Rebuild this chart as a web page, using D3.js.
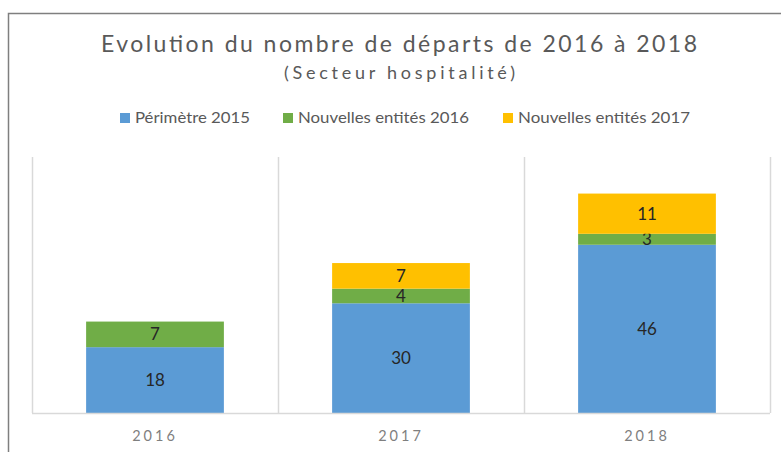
<!DOCTYPE html>
<html lang="fr">
<head>
<meta charset="utf-8">
<title>Evolution du nombre de départs</title>
<style>
  body { margin: 0; background: #fff; }
  svg text { font-family: Lato, "Open Sans", sans-serif; }
</style>
</head>
<body>
<svg id="chart" width="781" height="452"></svg>
<script src="https://d3js.org/d3.v7.min.js"></script>
<script>
const years = ["2016", "2017", "2018"]
const perimetre2015 = [18, 30, 46]
const nouvelles2016 = [7, 4, 3]
const nouvelles2017 = [0, 7, 11]
const seriesNames = ["Périmètre 2015", "Nouvelles entités 2016", "Nouvelles entités 2017"]
const colors = ["#5b9bd5", "#70ad47", "#ffc000"]

const svg = d3.select("#chart")

// outer frame (only top and left visible)
svg.append("path")
    .attr("d", "M8.5,452 V13.5 H781")
    .attr("fill", "none")
    .attr("stroke", "#7f7f7f")
    .attr("stroke-width", 1.5)

// title
svg.append("text")
    .attr("x", 101).attr("y", 52)
    .attr("textLength", 596).attr("lengthAdjust", "spacing")
    .attr("font-size", 23).attr("fill", "#595959")
    .text("Evolution du nombre de départs de 2016 à 2018")
svg.append("text")
    .attr("x", 284).attr("y", 79)
    .attr("textLength", 231).attr("lengthAdjust", "spacing")
    .attr("font-size", 18).attr("fill", "#595959")
    .text("(Secteur hospitalité)")

// legend
const legendX = [120, 283, 503]
const legendW = [115, 171, 172]
const legend = svg.append("g")
seriesNames.forEach((name, i) => {
    legend.append("rect")
        .attr("x", legendX[i]).attr("y", 113)
        .attr("width", 10).attr("height", 10)
        .attr("fill", colors[i])
    legend.append("text")
        .attr("x", legendX[i] + 15).attr("y", 123)
        .attr("textLength", legendW[i]).attr("lengthAdjust", "spacingAndGlyphs")
        .attr("font-size", 16).attr("fill", "#595959")
        .text(name)
})

const margin = { left: 32, right: 11, top: 157, bottom: 39 }
const W = 781, H = 452

const x = d3.scaleBand().domain(years).range([margin.left, W - margin.right])
const y = d3.scaleLinear().domain([0, 70]).range([H - margin.bottom, margin.top])

// category separators
const grid = svg.append("g")
years.concat(["end"]).forEach((d, i) => {
    const xx = Math.round(margin.left + i * x.bandwidth()) + 0.5
    grid.append("line")
        .attr("x1", xx).attr("x2", xx)
        .attr("y1", y(70)).attr("y2", y(0))
        .attr("stroke", "#d9d9d9").attr("stroke-width", 1.5)
})

// stacked data
const table = years.map((yr, i) => ({
    year: yr,
    s0: perimetre2015[i], s1: nouvelles2016[i], s2: nouvelles2017[i]
}))
const stack = d3.stack().keys(["s0", "s1", "s2"])(table)

const barW = x.bandwidth() * 0.56
stack.forEach((layer, k) => {
    const g = svg.append("g")
    layer.forEach(d => {
        const v = d[1] - d[0]
        if (v <= 0) return
        const cx = x(d.data.year) + x.bandwidth() / 2
        g.append("rect")
            .attr("x", cx - barW / 2)
            .attr("y", y(d[1]))
            .attr("width", barW)
            .attr("height", y(d[0]) - y(d[1]))
            .attr("fill", colors[k])
        g.append("text")
            .attr("x", cx)
            .attr("y", (y(d[0]) + y(d[1])) / 2)
            .attr("dy", "0.36em")
            .attr("text-anchor", "middle")
            .attr("font-size", 17).attr("fill", "#262626")
            .text(v)
    })
})

// axis baseline
svg.append("line")
    .attr("x1", margin.left).attr("x2", W - margin.right)
    .attr("y1", y(0) + 0.5).attr("y2", y(0) + 0.5)
    .attr("stroke", "#d9d9d9").attr("stroke-width", 1.5)

// category labels
years.forEach(yr => {
    svg.append("text")
        .attr("x", x(yr) + x.bandwidth() / 2)
        .attr("y", 441)
        .attr("text-anchor", "middle")
        .attr("font-size", 14.5).attr("fill", "#7f7f7f")
        .attr("letter-spacing", "3px")
        .text(yr)
})
</script>
</body>
</html>
